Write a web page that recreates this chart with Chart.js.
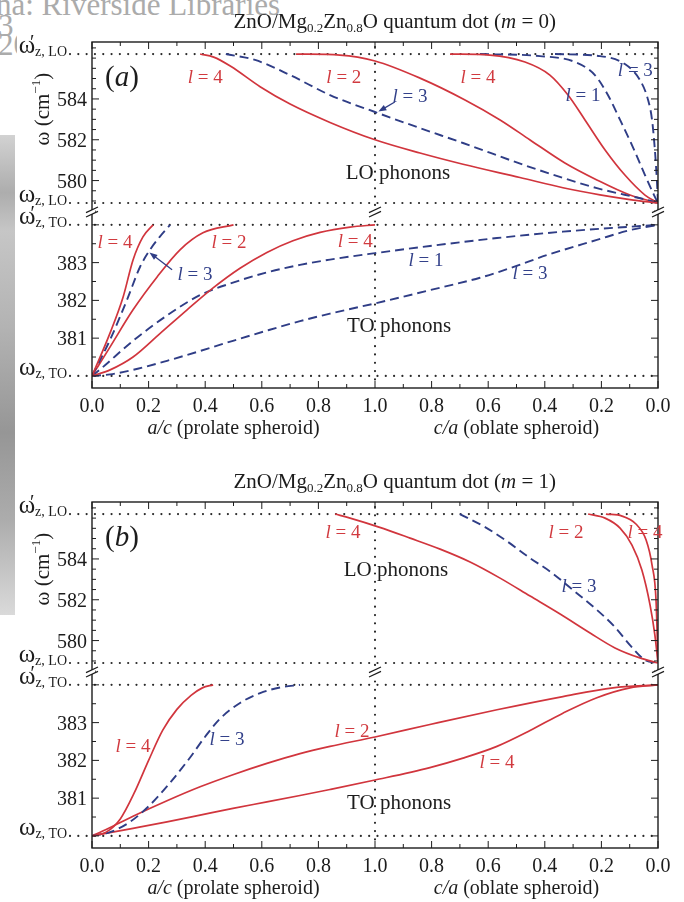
<!DOCTYPE html>
<html>
<head>
<meta charset="utf-8">
<script src="https://cdn.jsdelivr.net/npm/chart.js@4.4.1/dist/chart.umd.min.js"></script>
<style>
  html, body { margin: 0; padding: 0; background: #fff; }
  #wrap { position: relative; width: 684px; height: 902px; overflow: hidden; background: #fff; }
  #wrap canvas { position: absolute; left: 0; }
  .band { position: absolute; left: 0; top: 135px; width: 15px; height: 480px;
    background: linear-gradient(#d2d2d2 0%, #adadad 12%, #c6c6c6 20%, #b3b3b3 40%, #969696 62%, #acacac 80%, #dadada 100%); }
  .stamp { position: absolute; color: #ababab; font: 31px "Liberation Serif", serif; white-space: nowrap; line-height: 1; }
</style>
</head>
<body>
<div id="wrap">
  <div class="band"></div>
  <div class="stamp" style="left:-4px; top:-11px;">na: Riverside Libraries</div>
  <div class="stamp" style="left:-2px; top:10px;">3</div>
  <div class="stamp" style="left:-2px; top:29px; width:19px; overflow:hidden;">20</div>
  <canvas id="panelA" width="684" height="460" style="top:0"></canvas>
  <canvas id="panelB" width="684" height="442" style="top:460px"></canvas>
</div>
<script>
// ---- axis definitions -------------------------------------------------
// x runs 0..1 for a/c (prolate), then 1..2 for c/a going back from 1.0 to 0.0 (oblate)
const xTickValues = [0, 0.2, 0.4, 0.6, 0.8, 1.0, 1.2, 1.4, 1.6, 1.8, 2.0];
const xTickLabels = ['0.0', '0.2', '0.4', '0.6', '0.8', '1.0', '0.8', '0.6', '0.4', '0.2', '0.0'];
const loTickValues = [580, 582, 584];
const toTickValues = [381, 382, 383];
// characteristic frequencies (cm^-1)
const wLO = 578.9, wLOp = 586.2, wTO = 380, wTOp = 384;
const loRange = [578.46, 586.79];
const toRange = [379.68, 384.34];

// ---- m = 0 : LO branch [x, omega] ---------------------------------------
const m0_LO_l4_prolate = [[0.382,586.2],[0.43,586.05],[0.49,585.6],[0.594,584.6],[0.70,583.75],[0.841,582.85],[1.0,582.0],[1.159,581.35],[1.311,580.8],[1.512,580.15],[1.664,579.65],[1.795,579.3],[1.901,579.07],[2.0,578.9]];
const m0_LO_l3_prolate = [[0.473,586.2],[0.576,585.91],[0.70,585.17],[0.841,584.19],[1.0,583.36],[1.159,582.57],[1.311,581.84],[1.548,580.66],[1.784,579.63],[1.961,579.05],[2.0,578.9]];
const m0_LO_l2 = [[0.721,586.2],[0.876,586.15],[1.0,585.86],[1.159,585.02],[1.318,583.95],[1.442,582.97],[1.548,581.99],[1.671,580.86],[1.784,580.03],[1.901,579.29],[2.0,578.9]];
const m0_LO_l4_oblate = [[1.265,586.2],[1.406,586.15],[1.53,585.81],[1.618,585.17],[1.682,584.19],[1.742,582.97],[1.813,581.5],[1.883,580.27],[1.954,579.29],[2.0,578.9]];
const m0_LO_l1 = [[1.371,586.2],[1.583,586.1],[1.707,585.81],[1.777,585.17],[1.823,584.19],[1.866,582.97],[1.908,581.74],[1.954,580.27],[1.986,579.29],[2.0,578.9]];
const m0_LO_l3_oblate = [[1.636,586.2],[1.795,586.1],[1.883,585.71],[1.936,584.93],[1.965,583.95],[1.979,582.97],[1.989,581.5],[1.996,580.03],[2.0,578.9]];

// ---- m = 0 : TO branch --------------------------------------------------
const m0_TO_l4_steep = [[0,380],[0.064,381.14],[0.11,382.09],[0.145,383.07],[0.18,383.68],[0.216,384]];
const m0_TO_l3_steep = [[0,380],[0.064,380.96],[0.124,382.02],[0.17,382.89],[0.205,383.34],[0.24,383.69],[0.276,384]];
const m0_TO_l2 = [[0,380],[0.064,380.77],[0.145,381.75],[0.23,382.62],[0.311,383.34],[0.392,383.79],[0.5,384]];
const m0_TO_l4 = [[0,380],[0.064,380.16],[0.145,380.5],[0.24,381.12],[0.336,381.75],[0.428,382.33],[0.523,382.85],[0.618,383.27],[0.71,383.58],[0.806,383.8],[0.912,383.94],[1.0,384]];
const m0_TO_l1 = [[0,380],[0.03,380.18],[0.145,380.93],[0.265,381.6],[0.382,382.14],[0.498,382.47],[0.618,382.74],[0.735,382.94],[0.841,383.08],[1.0,383.25],[1.194,383.44],[1.431,383.65],[1.664,383.82],[1.901,383.95],[2.0,384]];
const m0_TO_l3 = [[0,380],[0.064,380.04],[0.145,380.16],[0.265,380.4],[0.382,380.66],[0.498,380.93],[0.618,381.2],[0.735,381.45],[0.841,381.65],[1.0,381.92],[1.194,382.27],[1.371,382.6],[1.488,382.88],[1.608,383.2],[1.784,383.6],[1.901,383.86],[2.0,384]];

// ---- m = 1 : LO branch --------------------------------------------------
const m1_LO_l4 = [[0.859,586.2],[0.912,586.0],[1.014,585.56],[1.124,585.02],[1.23,584.48],[1.336,583.85],[1.442,583.06],[1.548,582.18],[1.654,581.3],[1.76,580.37],[1.848,579.64],[1.936,579.15],[2.0,578.9]];
const m1_LO_l3 = [[1.3,586.2],[1.389,585.56],[1.466,584.87],[1.548,584.04],[1.622,583.35],[1.7,582.47],[1.777,581.59],[1.848,580.66],[1.901,579.78],[1.954,579.05],[2.0,578.9]];
const m1_LO_l2 = [[1.753,586.2],[1.813,586.0],[1.866,585.51],[1.908,584.68],[1.943,583.46],[1.972,581.74],[1.989,580.27],[2.0,578.9]];
const m1_LO_l4_flat = [[1.816,586.2],[1.873,586.1],[1.922,585.71],[1.958,584.93],[1.979,583.7],[1.993,581.99],[2.0,578.9]];

// ---- m = 1 : TO branch --------------------------------------------------
const m1_TO_l4_steep = [[0,380],[0.05,380.1],[0.1,380.45],[0.15,381.15],[0.2,382.0],[0.25,382.8],[0.3,383.35],[0.35,383.72],[0.39,383.92],[0.428,384]];
const m1_TO_l3 = [[0,380],[0.064,380.1],[0.134,380.37],[0.205,380.82],[0.276,381.41],[0.346,382.07],[0.399,382.62],[0.452,383.1],[0.523,383.52],[0.594,383.78],[0.664,383.93],[0.735,384]];
const m1_TO_l2 = [[0,380],[0.05,380.17],[0.145,380.52],[0.265,380.93],[0.382,381.3],[0.498,381.62],[0.618,381.92],[0.735,382.18],[0.841,382.37],[1.0,382.62],[1.194,382.95],[1.431,383.34],[1.664,383.69],[1.841,383.92],[2.0,384]];
const m1_TO_l4 = [[0,380],[0.145,380.2],[0.265,380.37],[0.382,380.55],[0.498,380.73],[0.618,380.9],[0.735,381.07],[0.841,381.23],[1.0,381.48],[1.194,381.81],[1.311,382.06],[1.431,382.37],[1.548,382.79],[1.664,383.25],[1.784,383.66],[1.901,383.92],[2.0,384]];

// ---- annotations: [axis, x, omega, l, colour] ---------------------------
const m0_curveLabels = [
  ['yLO', 0.40, 585.07, '4', 'r'], ['yLO', 0.89, 585.07, '2', 'r'], ['yLO', 1.364, 585.07, '4', 'r'],
  ['yLO', 1.92, 585.42, '3', 'b'], ['yLO', 1.735, 584.19, '1', 'b'], ['yLO', 1.124, 584.14, '3', 'b'],
  ['yTO', 0.081, 383.55, '4', 'r'], ['yTO', 0.484, 383.55, '2', 'r'], ['yTO', 0.364, 382.7, '3', 'b'],
  ['yTO', 0.93, 383.58, '4', 'r'], ['yTO', 1.18, 383.07, '1', 'b'], ['yTO', 1.548, 382.73, '3', 'b']
];
const m0_arrows = [
  ['yLO', 1.070, 583.85, 1.012, 583.38],
  ['yTO', 0.283, 382.81, 0.203, 383.27]
];
const m1_curveLabels = [
  ['yLO', 0.887, 585.32, '4', 'r'], ['yLO', 1.675, 585.32, '2', 'r'], ['yLO', 1.954, 585.32, '4', 'r'],
  ['yLO', 1.721, 582.68, '3', 'b'],
  ['yTO', 0.145, 382.38, '4', 'r'], ['yTO', 0.477, 382.57, '3', 'b'], ['yTO', 0.919, 382.78, '2', 'r'],
  ['yTO', 1.431, 381.96, '4', 'r']
];
const m1_arrows = [];
const m0_phononLabels = [['yLO', 1.081, 580.42, 'LO'], ['yTO', 1.085, 381.35, 'TO']];
const m1_phononLabels = [['yLO', 1.074, 583.53, 'LO'], ['yTO', 1.085, 380.9, 'TO']];

// ---- drawing helpers -----------------------------------------------------
const SERIF = '"Liberation Serif", "DejaVu Serif", serif';
const INK = '#1c1c1c';
const RED = '#d1353d';
const BLUE = '#2f3d86';
const LABEL_RED = '#d13a3f';
const LABEL_BLUE = '#33418a';

function font(size, italic) { return (italic ? 'italic ' : '') + size + 'px ' + SERIF; }

function runsWidth(ctx, runs) {
  let w = 0;
  for (const r of runs) { ctx.font = font(r.size, r.italic); w += ctx.measureText(r.text).width; }
  return w;
}
function drawRuns(ctx, runs, x, y, align, color) {
  const w = runsWidth(ctx, runs);
  let cx = align === 'center' ? x - w / 2 : align === 'right' ? x - w : x;
  ctx.textAlign = 'left';
  ctx.textBaseline = 'alphabetic';
  for (const r of runs) {
    ctx.font = font(r.size, r.italic);
    ctx.fillStyle = r.color || color || INK;
    ctx.fillText(r.text, cx, y + (r.dy || 0));
    cx += ctx.measureText(r.text).width;
  }
}
function drawOmega(ctx, xRight, py, prime, sub) {
  ctx.font = font(25); const wO = ctx.measureText('ω').width;
  ctx.font = font(14); const wS = ctx.measureText(sub).width;
  const x0 = xRight - wO - wS;
  ctx.fillStyle = INK; ctx.textAlign = 'left'; ctx.textBaseline = 'alphabetic';
  ctx.font = font(25); ctx.fillText('ω', x0, py - 1);
  ctx.font = font(14); ctx.fillText(sub, x0 + wO, py + 2);
  if (prime) { ctx.font = font(20); ctx.fillText('′', x0 + wO - 5, py - 5); }
}
function breakMark(ctx, x, y) {
  ctx.save();
  ctx.fillStyle = '#fff';
  ctx.fillRect(x - 3, y - 2, 6, 4);
  ctx.strokeStyle = INK; ctx.lineWidth = 1.2; ctx.setLineDash([]);
  for (const d of [-2.2, 2.2]) {
    ctx.beginPath(); ctx.moveTo(x - 6, y + d + 2.8); ctx.lineTo(x + 6, y + d - 2.8); ctx.stroke();
  }
  ctx.restore();
}
function arrow(ctx, x1, y1, x2, y2) {
  ctx.save();
  ctx.strokeStyle = BLUE; ctx.fillStyle = BLUE; ctx.lineWidth = 1.3; ctx.setLineDash([]);
  const ang = Math.atan2(y2 - y1, x2 - x1);
  ctx.beginPath(); ctx.moveTo(x1, y1); ctx.lineTo(x2 - 5 * Math.cos(ang), y2 - 5 * Math.sin(ang)); ctx.stroke();
  ctx.beginPath();
  ctx.moveTo(x2, y2);
  ctx.lineTo(x2 - 8 * Math.cos(ang) + 3 * Math.sin(ang), y2 - 8 * Math.sin(ang) - 3 * Math.cos(ang));
  ctx.lineTo(x2 - 8 * Math.cos(ang) - 3 * Math.sin(ang), y2 - 8 * Math.sin(ang) + 3 * Math.cos(ang));
  ctx.closePath(); ctx.fill();
  ctx.restore();
}

function makeFramePlugin(cfg) {
  return {
    id: 'frame' + cfg.m,
    beforeDatasetsDraw(chart) {
      const { ctx, chartArea: a, scales } = chart;
      const { x, yLO, yTO } = scales;
      ctx.save();
      ctx.strokeStyle = '#2a2a2a'; ctx.lineWidth = 2.2; ctx.lineCap = 'round';
      ctx.setLineDash([0.01, 8.3]);
      for (const [s, v] of [[yLO, wLOp], [yLO, wLO], [yTO, wTOp], [yTO, wTO]]) {
        const py = s.getPixelForValue(v);
        ctx.beginPath(); ctx.moveTo(a.left - 22, py); ctx.lineTo(a.right - 2, py); ctx.stroke();
      }
      const px = x.getPixelForValue(1);
      ctx.beginPath(); ctx.moveTo(px, a.top + 5); ctx.lineTo(px, a.bottom - 2); ctx.stroke();
      ctx.restore();
    },
    afterDraw(chart) {
      const { ctx, chartArea: a, scales } = chart;
      const { x, yLO, yTO } = scales;
      ctx.save();
      // frame
      ctx.strokeStyle = INK; ctx.lineWidth = 1.4; ctx.setLineDash([]);
      ctx.strokeRect(a.left, a.top, a.right - a.left, a.bottom - a.top);
      // frame ticks
      ctx.lineWidth = 1;
      for (let i = 0; i <= 20; i++) {
        const px = x.getPixelForValue(i / 10);
        const len = i % 2 === 0 ? 7 : 4;
        ctx.beginPath();
        ctx.moveTo(px, a.bottom); ctx.lineTo(px, a.bottom - len);
        ctx.moveTo(px, a.top); ctx.lineTo(px, a.top + len);
        ctx.stroke();
      }
      const yTicks = [];
      for (let v = 578.5; v <= 586.5; v += 0.5) yTicks.push([yLO, v, loTickValues.includes(v) ? 7 : 4]);
      for (let v = 380; v <= 384; v += 0.5) yTicks.push([yTO, v, Number.isInteger(v) ? 7 : 4]);
      for (const [s, v, len] of yTicks) {
        const py = s.getPixelForValue(v);
        ctx.beginPath();
        ctx.moveTo(a.left, py); ctx.lineTo(a.left + len, py);
        ctx.moveTo(a.right, py); ctx.lineTo(a.right - len, py);
        ctx.stroke();
      }
      // axis breaks
      const yb = yLO.bottom;
      breakMark(ctx, a.left, yb);
      breakMark(ctx, x.getPixelForValue(1), yb);
      breakMark(ctx, a.right, yb);

      // y tick labels
      ctx.fillStyle = INK; ctx.textBaseline = 'alphabetic'; ctx.textAlign = 'right';
      ctx.font = font(20);
      for (const v of loTickValues) ctx.fillText(String(v), a.left - 5, yLO.getPixelForValue(v) + 7);
      for (const v of toTickValues) ctx.fillText(String(v), a.left - 5, yTO.getPixelForValue(v) + 7);
      drawOmega(ctx, a.left - 25, yLO.getPixelForValue(wLOp), true, 'z, LO');
      drawOmega(ctx, a.left - 25, yLO.getPixelForValue(wLO), false, 'z, LO');
      drawOmega(ctx, a.left - 25, yTO.getPixelForValue(wTOp), true, 'z, TO');
      drawOmega(ctx, a.left - 25, yTO.getPixelForValue(wTO), false, 'z, TO');

      // x tick labels
      ctx.textAlign = 'center'; ctx.font = font(20); ctx.fillStyle = INK;
      xTickValues.forEach((v, i) => ctx.fillText(xTickLabels[i], x.getPixelForValue(v), a.bottom + 24));
      drawRuns(ctx, [{ text: 'a/c', size: 20, italic: true }, { text: ' (prolate spheroid)', size: 20 }],
        x.getPixelForValue(0.5), a.bottom + 46, 'center');
      drawRuns(ctx, [{ text: 'c/a', size: 20, italic: true }, { text: ' (oblate spheroid)', size: 20 }],
        x.getPixelForValue(1.5), a.bottom + 46, 'center');

      // y axis title
      ctx.save();
      ctx.translate(a.left - 50, yLO.getPixelForValue(583.5));
      ctx.rotate(-Math.PI / 2);
      drawRuns(ctx, [{ text: 'ω (cm', size: 21 }, { text: '−1', size: 13, dy: -9 }, { text: ')', size: 21 }], 0, 7, 'center');
      ctx.restore();

      // title
      drawRuns(ctx, [
        { text: 'ZnO/Mg', size: 21 }, { text: '0.2', size: 13, dy: 4 }, { text: 'Zn', size: 21 },
        { text: '0.8', size: 13, dy: 4 }, { text: 'O quantum dot (', size: 21 }, { text: 'm', size: 21, italic: true },
        { text: ' = ' + cfg.m + ')', size: 21 }
      ], x.getPixelForValue(1.07), 28, 'center');

      // panel tag
      drawRuns(ctx, [{ text: '(', size: 29 }, { text: cfg.tag, size: 29, italic: true }, { text: ')', size: 29 }],
        x.getPixelForValue(0.106), yLO.getPixelForValue(585.12) + 10, 'center');

      // phonon branch names
      for (const [axis, xv, v, name] of cfg.phonons) {
        const s = scales[axis];
        drawRuns(ctx, [{ text: name + ' phonons', size: 21 }], x.getPixelForValue(xv), s.getPixelForValue(v) + 7, 'center');
      }
      // curve labels
      for (const [axis, xv, v, l, c] of cfg.labels) {
        const s = scales[axis];
        drawRuns(ctx, [{ text: 'l', size: 19, italic: true }, { text: ' = ' + l, size: 19 }],
          x.getPixelForValue(xv), s.getPixelForValue(v) + 6, 'center', c === 'r' ? LABEL_RED : LABEL_BLUE);
      }
      for (const [axis, x1, v1, x2, v2] of cfg.arrows) {
        const s = scales[axis];
        arrow(ctx, x.getPixelForValue(x1), s.getPixelForValue(v1), x.getPixelForValue(x2), s.getPixelForValue(v2));
      }
      ctx.restore();
    }
  };
}

function hiddenLinear(extra) {
  return Object.assign({
    type: 'linear', display: true,
    grid: { display: false, drawTicks: false },
    ticks: { display: false },
    border: { display: false },
    title: { display: false }
  }, extra);
}

function makePanel(canvasId, cfg) {
  const canvas = document.getElementById(canvasId);
  const datasets = cfg.series.map(([pts, axis, dashed]) => ({
    data: pts.map(([xv, yv]) => ({ x: xv, y: yv })),
    xAxisID: 'x',
    yAxisID: axis,
    borderColor: dashed ? BLUE : RED,
    borderWidth: dashed ? 1.9 : 1.7,
    borderDash: dashed ? [9, 5] : [],
    pointRadius: 0,
    fill: false,
    cubicInterpolationMode: 'monotone'
  }));
  return new Chart(canvas, {
    type: 'line',
    data: { datasets },
    options: {
      responsive: false,
      animation: false,
      devicePixelRatio: 1,
      layout: { padding: { left: 92, right: 26, top: 42, bottom: canvas.height - 388 } },
      plugins: { legend: { display: false }, tooltip: { enabled: false } },
      scales: {
        x: hiddenLinear({ min: 0, max: 2 }),
        yTO: hiddenLinear({ position: 'left', min: toRange[0], max: toRange[1], stack: 'omega', stackWeight: 176 }),
        yLO: hiddenLinear({ position: 'left', min: loRange[0], max: loRange[1], stack: 'omega', stackWeight: 170 })
      }
    },
    plugins: [makeFramePlugin(cfg)]
  });
}

makePanel('panelA', {
  m: 0, tag: 'a',
  series: [
    [m0_LO_l4_prolate, 'yLO', false], [m0_LO_l3_prolate, 'yLO', true], [m0_LO_l2, 'yLO', false],
    [m0_LO_l4_oblate, 'yLO', false], [m0_LO_l1, 'yLO', true], [m0_LO_l3_oblate, 'yLO', true],
    [m0_TO_l4_steep, 'yTO', false], [m0_TO_l3_steep, 'yTO', true], [m0_TO_l2, 'yTO', false],
    [m0_TO_l4, 'yTO', false], [m0_TO_l1, 'yTO', true], [m0_TO_l3, 'yTO', true]
  ],
  labels: m0_curveLabels, arrows: m0_arrows, phonons: m0_phononLabels
});

makePanel('panelB', {
  m: 1, tag: 'b',
  series: [
    [m1_LO_l4, 'yLO', false], [m1_LO_l3, 'yLO', true], [m1_LO_l2, 'yLO', false], [m1_LO_l4_flat, 'yLO', false],
    [m1_TO_l4_steep, 'yTO', false], [m1_TO_l3, 'yTO', true], [m1_TO_l2, 'yTO', false], [m1_TO_l4, 'yTO', false]
  ],
  labels: m1_curveLabels, arrows: m1_arrows, phonons: m1_phononLabels
});
</script>
</body>
</html>
